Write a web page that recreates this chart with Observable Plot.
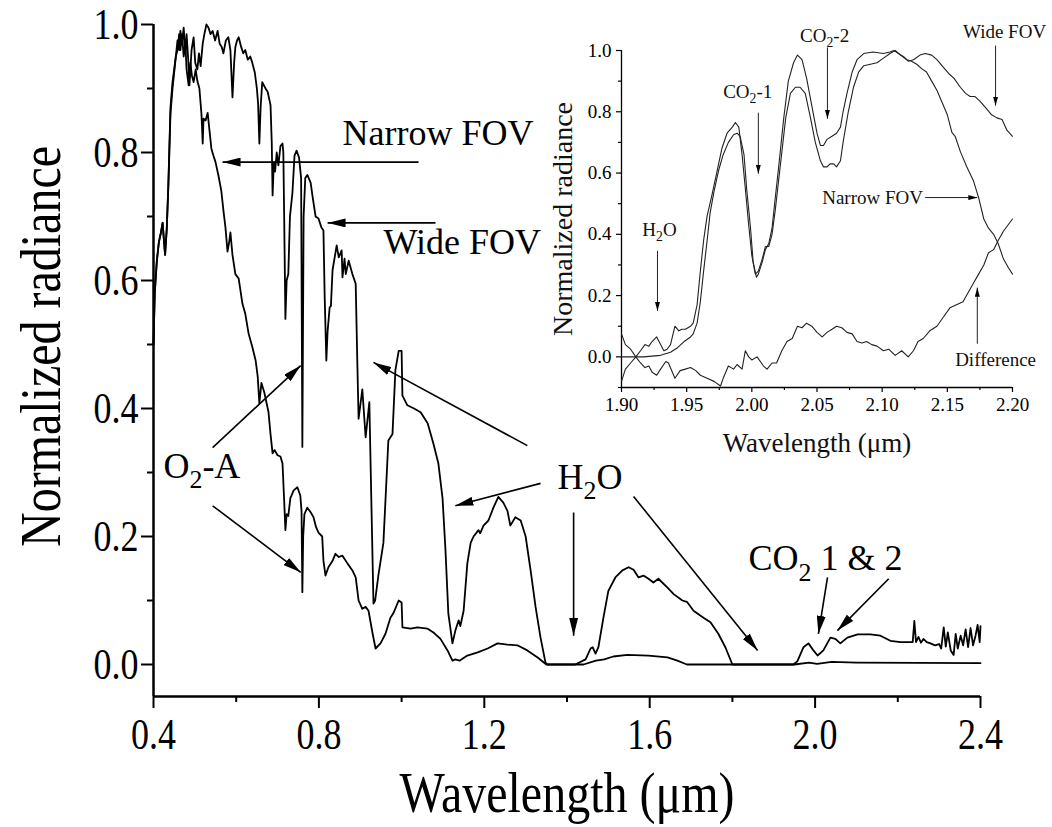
<!DOCTYPE html>
<html>
<head>
<meta charset="utf-8">
<script src="https://cdn.jsdelivr.net/npm/d3@7"></script>
<script src="https://cdn.jsdelivr.net/npm/@observablehq/plot@0.6"></script>
<style>
  html, body { margin: 0; padding: 0; background: #fff; }
  #figure { position: relative; width: 1052px; height: 827px; overflow: hidden; background: #fff; }
  #figure svg { position: absolute; }
</style>
</head>
<body>
<div id="figure"></div>
<script>
const SERIF = "'Liberation Serif', 'Times New Roman', serif";

// Full spectrum, [wavelength (µm), normalized radiance]
const wideFov = [
  [0.400,0.50],[0.403,0.58],[0.408,0.63],[0.413,0.66],[0.418,0.675],[0.422,0.69],[0.425,0.665],[0.428,0.64],
  [0.432,0.68],[0.436,0.75],[0.441,0.87],[0.446,0.91],[0.450,0.93],[0.454,0.95],[0.458,0.975],[0.462,0.96],
  [0.465,0.99],[0.469,0.97],[0.473,0.995],[0.477,0.955],[0.480,0.985],[0.484,0.945],[0.487,0.905],[0.492,0.96],
  [0.497,0.98],[0.501,0.94],[0.506,0.93],[0.510,0.955],[0.514,0.935],[0.519,0.97],[0.523,0.985],[0.528,1.0],
  [0.533,0.995],[0.538,0.985],[0.543,0.99],[0.549,0.975],[0.555,0.99],[0.560,0.97],[0.565,0.965],[0.569,0.955],
  [0.575,0.975],[0.581,0.98],[0.586,0.96],[0.591,0.886],[0.595,0.94],[0.598,0.965],[0.602,0.975],[0.606,0.98],
  [0.612,0.965],[0.617,0.955],[0.622,0.96],[0.628,0.945],[0.634,0.95],[0.639,0.94],[0.645,0.925],[0.650,0.90],
  [0.653,0.876],[0.656,0.814],[0.659,0.87],[0.663,0.91],[0.667,0.905],[0.671,0.90],[0.676,0.895],[0.683,0.874],
  [0.686,0.815],[0.688,0.733],[0.691,0.785],[0.694,0.77],[0.698,0.80],[0.702,0.78],[0.707,0.81],[0.712,0.814],
  [0.714,0.80],[0.716,0.70],[0.719,0.54],[0.722,0.60],[0.726,0.61],[0.730,0.70],[0.736,0.737],[0.741,0.795],
  [0.746,0.803],[0.752,0.792],[0.757,0.76],[0.760,0.34],[0.763,0.70],[0.767,0.76],[0.772,0.765],[0.780,0.753],
  [0.785,0.73],[0.792,0.70],[0.799,0.697],[0.806,0.683],[0.811,0.678],[0.814,0.574],[0.818,0.475],[0.821,0.52],
  [0.826,0.558],[0.829,0.56],[0.833,0.616],[0.843,0.655],[0.848,0.636],[0.855,0.647],[0.857,0.605],[0.862,0.634],
  [0.865,0.61],[0.872,0.631],[0.881,0.61],[0.889,0.595],[0.893,0.47],[0.896,0.384],[0.905,0.43],[0.913,0.355],
  [0.922,0.41],[0.927,0.25],[0.932,0.095],[0.936,0.10],[0.944,0.14],[0.956,0.19],[0.968,0.35],[0.978,0.36],
  [0.985,0.46],[0.993,0.49],[1.000,0.49],[1.002,0.42],[1.014,0.405],[1.030,0.40],[1.046,0.394],[1.063,0.377],
  [1.077,0.345],[1.089,0.314],[1.099,0.26],[1.106,0.18],[1.113,0.08],[1.123,0.033],[1.130,0.053],[1.138,0.069],
  [1.142,0.06],[1.150,0.084],[1.159,0.158],[1.167,0.19],[1.174,0.20],[1.186,0.21],[1.190,0.205],[1.198,0.217],
  [1.210,0.225],[1.222,0.245],[1.234,0.262],[1.246,0.253],[1.256,0.24],[1.263,0.217],[1.275,0.23],[1.288,0.225],
  [1.300,0.20],[1.312,0.147],[1.324,0.09],[1.336,0.042],[1.348,0.003],[1.353,0.0],[1.420,0.0],[1.445,0.008],
  [1.457,0.025],[1.462,0.027],[1.469,0.017],[1.476,0.027],[1.488,0.073],[1.500,0.115],[1.517,0.136],[1.534,0.147],
  [1.549,0.152],[1.561,0.148],[1.573,0.136],[1.585,0.139],[1.597,0.134],[1.609,0.128],[1.621,0.134],[1.643,0.12],
  [1.658,0.11],[1.679,0.10],[1.690,0.098],[1.706,0.084],[1.730,0.073],[1.747,0.066],[1.766,0.048],[1.783,0.027],
  [1.800,0.0],[1.948,0.0],[1.957,0.005],[1.972,0.027],[1.984,0.033],[1.996,0.022],[2.006,0.014],[2.020,0.022],
  [2.037,0.042],[2.049,0.040],[2.061,0.033],[2.078,0.042],[2.103,0.047],[2.134,0.047],[2.158,0.045],[2.182,0.037],
  [2.207,0.035],[2.236,0.035],[2.240,0.068],[2.244,0.035],[2.250,0.043],[2.256,0.034],[2.262,0.040],[2.270,0.035],
  [2.279,0.033],[2.290,0.030],[2.300,0.032],[2.305,0.025],[2.311,0.058],[2.316,0.028],[2.321,0.050],[2.328,0.022],
  [2.335,0.015],[2.340,0.048],[2.345,0.025],[2.352,0.045],[2.358,0.030],[2.364,0.055],[2.370,0.027],[2.376,0.057],
  [2.382,0.030],[2.388,0.045],[2.393,0.062],[2.398,0.035],[2.400,0.06]
];

const narrowFov = [
  [0.400,0.50],[0.403,0.58],[0.408,0.63],[0.413,0.66],[0.418,0.675],[0.422,0.69],[0.425,0.665],[0.428,0.64],
  [0.432,0.68],[0.436,0.75],[0.441,0.86],[0.446,0.90],[0.450,0.925],[0.454,0.95],[0.458,0.96],[0.462,0.985],
  [0.465,0.96],[0.469,0.985],[0.473,0.95],[0.477,0.97],[0.480,0.93],[0.485,0.905],[0.489,0.94],[0.493,0.92],
  [0.497,0.91],[0.502,0.93],[0.506,0.912],[0.511,0.90],[0.516,0.86],[0.519,0.814],[0.521,0.853],[0.526,0.85],
  [0.531,0.862],[0.535,0.837],[0.540,0.806],[0.545,0.795],[0.550,0.785],[0.557,0.764],[0.564,0.74],[0.569,0.71],
  [0.574,0.683],[0.579,0.645],[0.583,0.66],[0.586,0.675],[0.591,0.64],[0.598,0.61],[0.606,0.603],[0.615,0.564],
  [0.622,0.548],[0.630,0.517],[0.639,0.496],[0.647,0.475],[0.652,0.45],[0.656,0.408],[0.661,0.44],[0.668,0.425],
  [0.678,0.395],[0.683,0.36],[0.688,0.33],[0.693,0.335],[0.700,0.327],[0.707,0.325],[0.712,0.314],[0.716,0.256],
  [0.719,0.21],[0.722,0.235],[0.726,0.232],[0.731,0.26],[0.739,0.272],[0.748,0.277],[0.755,0.264],[0.758,0.24],
  [0.760,0.113],[0.762,0.20],[0.765,0.235],[0.772,0.245],[0.780,0.238],[0.787,0.23],[0.793,0.215],[0.799,0.206],
  [0.808,0.20],[0.811,0.162],[0.816,0.139],[0.823,0.152],[0.833,0.162],[0.840,0.173],[0.848,0.168],[0.857,0.17],
  [0.869,0.158],[0.881,0.147],[0.889,0.136],[0.896,0.10],[0.905,0.087],[0.913,0.09],[0.920,0.084],[0.930,0.048],
  [0.937,0.025],[0.949,0.033],[0.961,0.048],[0.973,0.073],[0.980,0.08],[0.993,0.10],[1.000,0.097],[1.002,0.058],
  [1.022,0.056],[1.038,0.058],[1.063,0.056],[1.077,0.05],[1.094,0.04],[1.111,0.022],[1.123,0.006],[1.130,0.008],
  [1.140,0.006],[1.159,0.014],[1.184,0.019],[1.208,0.025],[1.232,0.033],[1.256,0.031],[1.280,0.03],[1.304,0.022],
  [1.329,0.011],[1.350,0.0],[1.440,0.0],[1.470,0.006],[1.490,0.008],[1.512,0.0125],[1.546,0.015],[1.597,0.014],
  [1.643,0.011],[1.667,0.006],[1.690,0.0],[1.950,0.0],[1.985,0.003],[2.005,0.001],[2.040,0.004],[2.100,0.003],
  [2.400,0.002]
];

// 1.90–2.20 µm detail, [wavelength (µm), normalized radiance]
const insetWide = [
  [1.900,0.0],[1.917,0.0],[1.930,0.005],[1.9376,0.015],[1.943,0.03],[1.948,0.05],[1.953,0.065],[1.955,0.075],
  [1.958,0.11],[1.9605,0.18],[1.963,0.28],[1.9657,0.38],[1.968,0.47],[1.971,0.54],[1.9746,0.61],[1.978,0.66],
  [1.982,0.70],[1.986,0.725],[1.9887,0.73],[1.991,0.72],[1.994,0.66],[1.996,0.55],[1.999,0.42],[2.001,0.31],
  [2.0035,0.26],[2.005,0.27],[2.008,0.31],[2.0104,0.35],[2.013,0.37],[2.0155,0.42],[2.018,0.52],[2.0206,0.62],
  [2.0245,0.78],[2.028,0.90],[2.032,0.96],[2.035,0.985],[2.0385,0.97],[2.042,0.91],[2.046,0.82],[2.050,0.73],
  [2.0526,0.69],[2.055,0.69],[2.0577,0.71],[2.0615,0.72],[2.065,0.73],[2.068,0.75],[2.070,0.80],[2.073,0.86],
  [2.077,0.93],[2.0807,0.97],[2.0858,0.99],[2.093,0.995],[2.101,0.99],[2.106,0.995],[2.109,1.0],[2.1126,0.99],
  [2.1165,0.98],[2.120,0.965],[2.124,0.97],[2.129,0.985],[2.133,0.99],[2.138,0.985],[2.142,0.97],[2.147,0.945],
  [2.151,0.925],[2.155,0.91],[2.160,0.88],[2.164,0.86],[2.1675,0.85],[2.171,0.85],[2.175,0.835],[2.180,0.81],
  [2.184,0.79],[2.188,0.78],[2.192,0.775],[2.1957,0.74],[2.200,0.72]
];

const insetNarrow = [
  [1.900,0.075],[1.903,0.04],[1.907,0.025],[1.911,0.0],[1.9146,0.02],[1.918,0.04],[1.921,0.035],[1.9235,0.05],
  [1.927,0.065],[1.930,0.04],[1.9325,0.02],[1.935,0.025],[1.9376,0.04],[1.941,0.10],[1.944,0.085],[1.9465,0.09],
  [1.949,0.09],[1.953,0.10],[1.955,0.11],[1.958,0.17],[1.9605,0.28],[1.963,0.38],[1.9657,0.46],[1.9695,0.53],
  [1.973,0.60],[1.977,0.68],[1.981,0.73],[1.985,0.75],[1.9874,0.765],[1.990,0.75],[1.9925,0.66],[1.995,0.55],
  [1.9976,0.43],[2.000,0.33],[2.0027,0.27],[2.005,0.28],[2.008,0.32],[2.0104,0.36],[2.013,0.36],[2.0155,0.40],
  [2.018,0.48],[2.022,0.63],[2.026,0.78],[2.0296,0.86],[2.0334,0.88],[2.037,0.88],[2.041,0.86],[2.045,0.78],
  [2.0487,0.70],[2.0526,0.64],[2.055,0.62],[2.0577,0.62],[2.060,0.63],[2.0628,0.63],[2.065,0.62],[2.068,0.64],
  [2.070,0.70],[2.074,0.80],[2.078,0.88],[2.082,0.93],[2.0858,0.95],[2.091,0.955],[2.096,0.96],[2.101,0.975],
  [2.106,0.99],[2.110,1.0],[2.114,0.985],[2.119,0.97],[2.1226,0.965],[2.1265,0.955],[2.1305,0.94],[2.134,0.93],
  [2.138,0.90],[2.142,0.87],[2.146,0.83],[2.150,0.79],[2.1535,0.733],[2.156,0.72],[2.160,0.67],[2.165,0.62],
  [2.170,0.575],[2.174,0.52],[2.178,0.45],[2.1816,0.42],[2.1855,0.40],[2.189,0.37],[2.193,0.32],[2.197,0.29],
  [2.200,0.27]
];

const insetDifference = [
  [1.900,-0.08],[1.903,-0.04],[1.907,-0.02],[1.911,0.0],[1.9146,-0.02],[1.918,-0.035],[1.921,-0.03],[1.9235,-0.05],
  [1.927,-0.06],[1.930,-0.04],[1.934,-0.015],[1.936,-0.02],[1.941,-0.07],[1.945,-0.045],[1.949,-0.04],[1.953,-0.035],
  [1.957,-0.045],[1.9605,-0.06],[1.9657,-0.07],[1.971,-0.08],[1.976,-0.095],[1.978,-0.07],[1.982,-0.03],[1.986,-0.04],
  [1.9887,-0.025],[1.9925,-0.04],[1.995,0.02],[1.9976,0.0],[2.000,-0.01],[2.004,0.0],[2.009,-0.03],[2.0117,-0.04],
  [2.0155,-0.02],[2.019,-0.02],[2.023,0.02],[2.027,0.05],[2.031,0.06],[2.035,0.10],[2.0385,0.095],[2.042,0.11],
  [2.046,0.10],[2.050,0.08],[2.054,0.065],[2.0577,0.08],[2.0615,0.09],[2.065,0.10],[2.069,0.095],[2.073,0.08],
  [2.077,0.075],[2.0807,0.05],[2.0845,0.045],[2.088,0.05],[2.092,0.04],[2.096,0.035],[2.101,0.02],[2.105,0.025],
  [2.110,0.005],[2.115,0.02],[2.120,0.0],[2.124,0.02],[2.1275,0.05],[2.1315,0.06],[2.1365,0.085],[2.142,0.10],
  [2.147,0.13],[2.152,0.16],[2.157,0.17],[2.162,0.18],[2.166,0.21],[2.170,0.24],[2.174,0.27],[2.178,0.30],
  [2.1816,0.34],[2.1855,0.35],[2.189,0.38],[2.193,0.41],[2.200,0.45]
];

// Tick values
const mainXTicks = [0.4, 0.8, 1.2, 1.6, 2.0, 2.4];
const mainXMinor = [0.6, 1.0, 1.4, 1.8, 2.2];
const mainYTicks = [0, 0.2, 0.4, 0.6, 0.8, 1.0];
const mainYMinor = [0.1, 0.3, 0.5, 0.7, 0.9];
const insetXTicks = [1.90, 1.95, 2.00, 2.05, 2.10, 2.15, 2.20];
const insetXMinor = [1.925, 1.975, 2.025, 2.075, 2.125, 2.175];
const insetYTicks = [0, 0.2, 0.4, 0.6, 0.8, 1.0];
const insetYMinor = [-0.1, 0.1, 0.3, 0.5, 0.7, 0.9];

// Annotations ("_2" marks a subscript two)
const mainNotes = [
  {text: "Narrow FOV", x: 0.857, y: 0.829},
  {text: "Wide FOV", x: 0.956, y: 0.660},
  {text: "O_2-A", x: 0.424, y: 0.310},
  {text: "H_2O", x: 1.377, y: 0.293},
  {text: "CO_2 1 & 2", x: 1.839, y: 0.165}
];
const mainArrows = [
  {x1: 1.041, y1: 0.785, x2: 0.567, y2: 0.785},
  {x1: 1.082, y1: 0.690, x2: 0.821, y2: 0.690},
  {x1: 0.543, y1: 0.339, x2: 0.756, y2: 0.467},
  {x1: 0.543, y1: 0.248, x2: 0.756, y2: 0.144},
  {x1: 1.304, y1: 0.342, x2: 0.932, y2: 0.472},
  {x1: 1.336, y1: 0.283, x2: 1.130, y2: 0.248},
  {x1: 1.416, y1: 0.2375, x2: 1.416, y2: 0.045},
  {x1: 1.561, y1: 0.2625, x2: 1.861, y2: 0.022},
  {x1: 2.030, y1: 0.136, x2: 2.008, y2: 0.048},
  {x1: 2.178, y1: 0.134, x2: 2.054, y2: 0.053}
];
const insetNotes = [
  {text: "H_2O", x: 1.916, y: 0.415},
  {text: "CO_2-1", x: 1.978, y: 0.866},
  {text: "CO_2-2", x: 2.037, y: 1.049},
  {text: "Wide FOV", x: 2.162, y: 1.062},
  {text: "Narrow FOV", x: 2.054, y: 0.520},
  {text: "Difference", x: 2.156, y: -0.010}
];
const insetArrows = [
  {x1: 1.9276, y1: 0.346, x2: 1.9276, y2: 0.150},
  {x1: 2.005, y1: 0.797, x2: 2.005, y2: 0.598},
  {x1: 2.058, y1: 1.010, x2: 2.058, y2: 0.777},
  {x1: 2.187, y1: 1.016, x2: 2.187, y2: 0.820},
  {x1: 2.133, y1: 0.520, x2: 2.173, y2: 0.520},
  {x1: 2.173, y1: 0.043, x2: 2.173, y2: 0.226}
];

const wl = d => d[0];
const rad = d => d[1];

// Replace Plot's open arrowheads with solid triangles
function solidHeads(svg, len, wid) {
  d3.select(svg).selectAll("marker").each(function () {
    const m = d3.select(this);
    m.attr("viewBox", `${-len} ${-wid / 2} ${len} ${wid}`)
      .attr("markerUnits", "userSpaceOnUse")
      .attr("markerWidth", len)
      .attr("markerHeight", wid)
      .attr("refX", 0).attr("refY", 0)
      .attr("fill", "black").attr("stroke", "none");
    m.selectAll("*").remove();
    m.append("path").attr("d", `M${-len},${-wid / 2}L0,0L${-len},${wid / 2}Z`);
  });
}

// Turn "_2" into a lowered, smaller 2
function subscripts(svg, fs) {
  d3.select(svg).selectAll("text").each(function () {
    const t = this.textContent;
    if (!t.includes("_")) return;
    const parts = t.split(/_(\d)/);
    const sel = d3.select(this);
    sel.text(null);
    const shift = 0.28 * fs;
    parts.forEach((p, i) => {
      if (!p) return;
      const sp = sel.append("tspan").text(p);
      if (i % 2 === 1) {
        sp.attr("font-size", 0.72 * fs).attr("dy", shift);
      } else if (i > 0) {
        sp.attr("dy", -shift);
      }
    });
  });
}

// Tall, narrow glyphs for the axis lettering
function stretch(nodes, k) {
  nodes.attr("transform", function () {
    return (this.getAttribute("transform") || "") + ` scale(1,${k})`;
  });
}
function textsNamed(svg, label) {
  return d3.select(svg).selectAll("text").filter(function () { return this.textContent === label; });
}

const main = Plot.plot({
  width: 1052,
  height: 827,
  marginLeft: 153,
  marginRight: 72,
  marginTop: 24,
  marginBottom: 131,
  x: {domain: [0.4, 2.4]},
  y: {domain: [-0.05, 1.0]},
  style: {fontFamily: SERIF, color: "black", background: "transparent", overflow: "visible"},
  marks: [
    Plot.axisX(mainXTicks, {tickSize: 12, tickPadding: 9, strokeWidth: 2, fontSize: 36, tickFormat: d3.format(".1f"), label: null}),
    Plot.axisX(mainXMinor, {tickSize: 6, strokeWidth: 2, fill: "none", label: null}),
    Plot.axisY(mainYTicks, {tickSize: 12, tickPadding: 3, strokeWidth: 2, fontSize: 36, tickFormat: d3.format(".1f"), label: null}),
    Plot.axisY(mainYMinor, {tickSize: 6, strokeWidth: 2, fill: "none", label: null}),
    Plot.ruleX([0.4], {y1: -0.05, y2: 1.0, strokeWidth: 2.5}),
    Plot.ruleY([-0.05], {x1: 0.4, x2: 2.4, strokeWidth: 2.5}),
    Plot.line(narrowFov, {x: wl, y: rad, stroke: "black", strokeWidth: 1.8}),
    Plot.line(wideFov, {x: wl, y: rad, stroke: "black", strokeWidth: 1.8}),
    Plot.link(mainArrows, {x1: "x1", y1: "y1", x2: "x2", y2: "y2", stroke: "black", strokeWidth: 1.6, markerEnd: "arrow"}),
    Plot.text(mainNotes, {x: "x", y: "y", text: "text", textAnchor: "start", lineAnchor: "middle", fontSize: 36, fill: "black"}),
    Plot.text(["Wavelength (μm)"], {frameAnchor: "bottom", lineAnchor: "middle", dy: 97, fontSize: 48, fill: "black"}),
    Plot.text(["Normalized radiance"], {frameAnchor: "left", textAnchor: "middle", lineAnchor: "middle", rotate: -90, dx: -112, dy: -14, fontSize: 48, fill: "black"})
  ]
});
solidHeads(main, 18, 9);
subscripts(main, 36);
stretch(d3.select(main).selectAll('g[aria-label="x-axis tick label"] text, g[aria-label="y-axis tick label"] text'), 1.25);
stretch(textsNamed(main, "Wavelength (μm)"), 1.2);
stretch(textsNamed(main, "Normalized radiance"), 1.2);
main.style.left = "0px";
main.style.top = "0px";

const inset = Plot.plot({
  width: 512,
  height: 470,
  marginLeft: 81,
  marginRight: 40,
  marginTop: 50,
  marginBottom: 83,
  x: {domain: [1.9, 2.2]},
  y: {domain: [-0.1, 1.0]},
  style: {fontFamily: SERIF, color: "black", background: "transparent", overflow: "visible"},
  marks: [
    Plot.axisX(insetXTicks, {tickSize: 5, tickPadding: 5, strokeWidth: 1.2, fontSize: 19, tickFormat: d3.format(".2f"), label: null}),
    Plot.axisX(insetXMinor, {tickSize: 3, strokeWidth: 1.2, fill: "none", label: null}),
    Plot.axisY(insetYTicks, {tickSize: 5, tickPadding: 5, strokeWidth: 1.2, fontSize: 19, tickFormat: d3.format(".1f"), label: null}),
    Plot.axisY(insetYMinor, {tickSize: 3, strokeWidth: 1.2, fill: "none", label: null}),
    Plot.ruleX([1.9], {y1: -0.1, y2: 1.0, strokeWidth: 1.3}),
    Plot.ruleY([-0.1], {x1: 1.9, x2: 2.2, strokeWidth: 1.3}),
    Plot.line(insetDifference, {x: wl, y: rad, stroke: "#222", strokeWidth: 1.1}),
    Plot.line(insetNarrow, {x: wl, y: rad, stroke: "#222", strokeWidth: 1.1}),
    Plot.line(insetWide, {x: wl, y: rad, stroke: "#222", strokeWidth: 1.1}),
    Plot.link(insetArrows, {x1: "x1", y1: "y1", x2: "x2", y2: "y2", stroke: "#222", strokeWidth: 1, markerEnd: "arrow"}),
    Plot.text(insetNotes, {x: "x", y: "y", text: "text", textAnchor: "start", lineAnchor: "middle", fontSize: 19, fill: "#111"}),
    Plot.text(["Wavelength (μm)"], {frameAnchor: "bottom", lineAnchor: "middle", dy: 56, fontSize: 27, fill: "#111"}),
    Plot.text(["Normalized radiance"], {frameAnchor: "left", textAnchor: "middle", lineAnchor: "middle", rotate: -90, dx: -58, fontSize: 28, fill: "#111"})
  ]
});
solidHeads(inset, 9, 5);
subscripts(inset, 19);
inset.style.left = "540px";
inset.style.top = "0px";

const fig = document.getElementById("figure");
fig.appendChild(main);
fig.appendChild(inset);
</script>
</body>
</html>
